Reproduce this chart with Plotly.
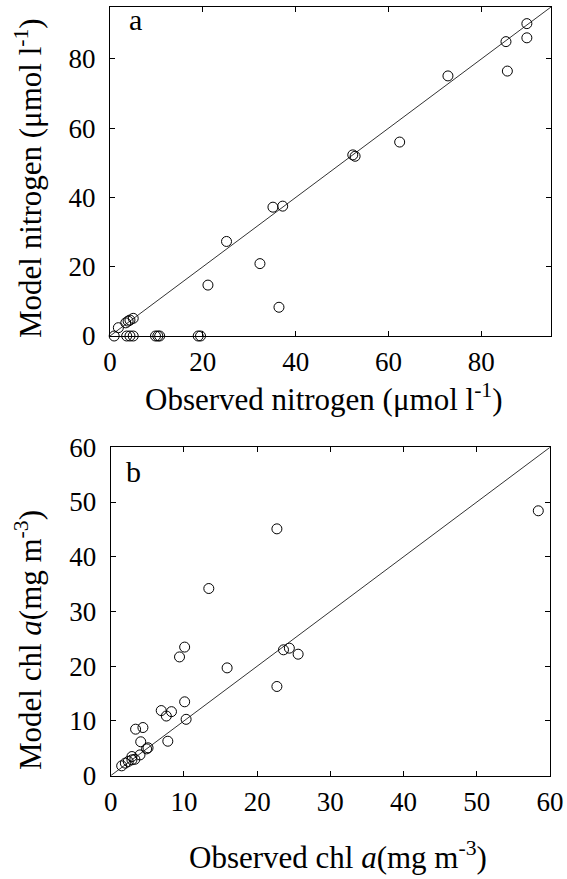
import plotly.graph_objects as go

# panel a: nitrogen (umol l-1)
nitro_obs = [89.8, 89.8, 85.3, 85.6, 72.8, 62.4, 52.3, 52.8, 35.1, 37.2, 25.1, 32.3, 21.1, 36.4,
             19.0, 19.5, 9.8, 10.3, 10.7, 0.9, 3.6, 4.3, 5.0, 1.8, 3.4, 3.9, 4.3, 5.0]
nitro_mod = [90.2, 86.1, 85.0, 76.5, 75.1, 56.0, 52.3, 51.9, 37.2, 37.5, 27.3, 20.9, 14.7, 8.3,
             0, 0, 0, 0, 0, 0, 0, 0, 0, 2.4, 3.8, 4.3, 4.6, 5.1]

# panel b: chl a (mg m-3)
chl_obs = [58.4, 22.7, 13.4, 10.1, 9.4, 15.9, 23.6, 24.4, 25.6, 22.7, 10.1, 10.3, 6.9, 7.6,
           8.3, 7.8, 3.4, 4.4, 4.1, 5.1, 4.9, 4.0, 3.3, 2.9, 2.4, 2.0, 1.5, 2.9]
chl_mod = [48.4, 45.1, 34.2, 23.5, 21.7, 19.7, 23.0, 23.3, 22.2, 16.3, 13.5, 10.3, 11.9, 10.9,
           11.7, 6.3, 8.5, 8.8, 6.2, 5.1, 4.9, 3.8, 3.0, 2.9, 2.6, 2.3, 1.8, 3.5]

nitro_ticks = [0, 20, 40, 60, 80]
chl_ticks = [0, 10, 20, 30, 40, 50, 60]
nitro_range = [0, 95]
chl_range = [0, 60]

W, H = 567, 879
FONT = "Liberation Serif"

fig = go.Figure()

marker = dict(symbol="circle-open", size=10, color="black", line=dict(width=1))
line = dict(color="#333333", width=1)

# 1:1 lines
fig.add_trace(go.Scatter(x=nitro_range, y=nitro_range, mode="lines", line=line,
                         xaxis="x", yaxis="y", showlegend=False))
fig.add_trace(go.Scatter(x=chl_range, y=chl_range, mode="lines", line=line,
                         xaxis="x2", yaxis="y2", showlegend=False))
fig.add_trace(go.Scatter(x=nitro_obs, y=nitro_mod, mode="markers", marker=marker,
                         xaxis="x", yaxis="y", showlegend=False, cliponaxis=False))
fig.add_trace(go.Scatter(x=chl_obs, y=chl_mod, mode="markers", marker=marker,
                         xaxis="x2", yaxis="y2", showlegend=False, cliponaxis=False))

ax = dict(showline=True, linecolor="black", linewidth=1, mirror="ticks", ticks="inside",
          ticklen=5, tickcolor="black", showgrid=False, zeroline=False,
          tickfont=dict(family=FONT, size=27, color="black"), automargin=False,
          ticklabeloverflow="allow")

fig.update_layout(
    width=W, height=H,
    margin=dict(l=0, r=0, t=0, b=0),
    paper_bgcolor="white", plot_bgcolor="white",
    font=dict(family=FONT, color="black"),
    xaxis=dict(ax, domain=[110 / W, 551 / W], range=nitro_range, tickvals=nitro_ticks,
               anchor="y", ticklabelstandoff=2),
    yaxis=dict(ax, domain=[1 - 336 / H, 1 - 7 / H], range=nitro_range, tickvals=nitro_ticks,
               anchor="x", ticklabelstandoff=8),
    xaxis2=dict(ax, domain=[110.7 / W, 550 / W], range=chl_range, tickvals=chl_ticks,
                anchor="y2", ticklabelstandoff=2),
    yaxis2=dict(ax, domain=[1 - 775.7 / H, 1 - 447.3 / H], range=chl_range, tickvals=chl_ticks,
                anchor="x2", ticklabelstandoff=8),
)

def note(text, x, y, size=31, angle=0):
    fig.add_annotation(text=text, x=x / W, y=1 - y / H, xref="paper", yref="paper",
                       showarrow=False, textangle=angle, xanchor="center", yanchor="middle",
                       font=dict(family=FONT, size=size, color="black"))

note("Observed nitrogen (μmol l<sup>-1</sup>)", 324, 398)
note("Model nitrogen (μmol l<sup>-1</sup>)", 28, 178, angle=-90)
note("Observed chl <i>a</i>(mg m<sup>-3</sup>)", 338, 855)
note("Model chl <i>a</i>(mg m<sup>-3</sup>)", 28, 640, angle=-90)
note("a", 135, 20, size=30)
note("b", 133, 471, size=30)

# page body has a default 8px margin; drop it so the figure sits at the window corner
fig.write_html("out.html", config={"displayModeBar": False},
               post_script="document.body.style.margin='0';")
